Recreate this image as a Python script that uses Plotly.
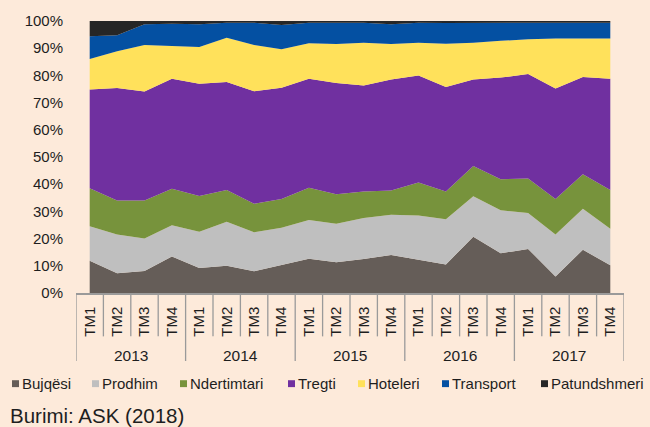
import plotly.graph_objects as go

# ---- data ----
years = ["2013", "2014", "2015", "2016", "2017"]
quarters = ["TM1", "TM2", "TM3", "TM4"]
series_names = ["Bujqësi", "Prodhim", "Ndertimtari", "Tregti", "Hoteleri", "Transport", "Patundshmeri"]

bujqesi = [11.9, 7.3, 8.1, 13.4, 9.2, 10.0, 8.0, 10.3, 12.6, 11.3,
           12.5, 14.0, 12.2, 10.5, 20.7, 14.6, 16.2, 6.1, 15.9, 10.2]
prodhim = [12.6, 14.2, 11.9, 11.5, 13.3, 16.2, 14.3, 13.7, 14.2, 14.2,
           15.1, 14.8, 16.3, 16.6, 14.9, 15.8, 13.2, 15.4, 15.1, 13.4]
ndertimtari = [14.0, 12.5, 14.0, 13.4, 13.2, 11.7, 10.5, 10.6, 11.9, 10.8,
               9.7, 8.9, 12.1, 10.2, 11.1, 11.4, 12.7, 13.1, 12.7, 14.3]
tregti = [36.3, 41.4, 40.1, 40.5, 41.2, 39.7, 41.4, 40.9, 40.1, 40.9,
          39.0, 40.8, 39.4, 38.4, 31.8, 37.4, 38.4, 40.6, 35.7, 40.9]
hoteleri = [11.2, 13.5, 17.1, 12.0, 13.5, 16.2, 17.0, 14.1, 13.0, 14.3,
            15.7, 13.0, 12.0, 15.9, 13.5, 13.5, 12.8, 18.4, 14.3, 14.8]
transport = [8.4, 5.9, 7.6, 8.2, 8.4, 5.6, 8.2, 8.9, 7.6, 7.9,
             7.4, 7.3, 7.4, 7.7, 7.3, 6.7, 5.9, 5.7, 5.6, 5.8]
patundshmeri = [5.6, 5.2, 1.2, 1.0, 1.2, 0.6, 0.6, 1.5, 0.6, 0.6,
                0.6, 1.2, 0.6, 0.7, 0.7, 0.6, 0.8, 0.7, 0.7, 0.6]

y_ticks = [0, 10, 20, 30, 40, 50, 60, 70, 80, 90, 100]
source_text = "Burimi: ASK (2018)"

# ---- styling ----
colors = ["#655D58", "#BFBFBF", "#77933C", "#7030A0", "#FFE15B", "#0450A2", "#262626"]
BG = "#FDEADA"
FONT = "Liberation Sans, Arial, sans-serif"
TXT = "#1E1E1E"
AXIS = "#9A9A9A"

W, H = 650, 427
L, R, T, B = 76, 26, 17, 134
PW, PH = W - L - R, H - T - B


def px_x(p):
    return (p - L) / PW


def px_y(p):
    return (H - B - p) / PH


labels = [f"{q}" for y in years for q in quarters]
xs = list(range(len(labels)))
values = [bujqesi, prodhim, ndertimtari, tregti, hoteleri, transport, patundshmeri]

fig = go.Figure()
for i, (name, vals, col) in enumerate(zip(series_names, values, colors)):
    fig.add_trace(go.Scatter(
        x=xs, y=vals, name=name, mode="lines",
        stackgroup="one", groupnorm="percent" if i == 0 else None,
        line=dict(width=0, color=col), fillcolor=col,
        showlegend=False, hoverinfo="x+y+name",
    ))

shapes = []
annotations = []
n = len(labels)
# category dividers (multi-level axis)
for k in range(n + 1):
    long_ = (k % len(quarters) == 0)
    shapes.append(dict(
        type="line", xref="x", yref="paper",
        x0=k - 0.5, x1=k - 0.5, y0=0, y1=px_y(362 if long_ else 337),
        line=dict(color=AXIS, width=1.3),
    ))
# year labels
for j, yr in enumerate(years):
    annotations.append(dict(
        x=j * len(quarters) + (len(quarters) - 1) / 2, xref="x",
        y=px_y(356), yref="paper", text=yr, showarrow=False,
        xanchor="center", yanchor="middle",
        font=dict(family=FONT, size=15.5, color=TXT),
    ))

# legend (swatch + text)
legend_sw = [12, 92, 180, 288, 358, 442, 541]
for name, col, sx in zip(series_names, colors, legend_sw):
    shapes.append(dict(
        type="rect", xref="paper", yref="paper",
        x0=px_x(sx), x1=px_x(sx + 7), y0=px_y(381.5), y1=px_y(388.5),
        fillcolor=col, line=dict(width=0),
    ))
    annotations.append(dict(
        x=px_x(sx + 8), xref="paper", y=px_y(385), yref="paper",
        text=name, showarrow=False, xanchor="left", yanchor="middle",
        font=dict(family=FONT, size=15, color=TXT),
    ))

annotations.append(dict(
    x=px_x(8), xref="paper", y=px_y(417), yref="paper",
    text=source_text, showarrow=False, xanchor="left", yanchor="middle",
    font=dict(family=FONT, size=20.5, color=TXT),
))

fig.update_layout(
    width=W, height=H,
    margin=dict(l=L, r=R, t=T, b=B, pad=0),
    paper_bgcolor=BG, plot_bgcolor=BG,
    font=dict(family=FONT, color=TXT),
    showlegend=False,
    shapes=shapes, annotations=annotations,
    xaxis=dict(
        range=[-0.5, n - 0.5], tickmode="array", tickvals=xs, ticktext=labels,
        tickangle=-90, ticks="", showgrid=False, zeroline=False,
        showline=True, linecolor=AXIS, linewidth=1.5,
        tickfont=dict(family=FONT, size=15, color=TXT),
        ticklabelstandoff=6, fixedrange=True,
    ),
    yaxis=dict(
        range=[0, 100], tickmode="array", tickvals=y_ticks,
        ticktext=[f"{v}%" for v in y_ticks],
        ticks="", showgrid=False, zeroline=False, showline=False,
        tickfont=dict(family=FONT, size=15, color=TXT),
        ticklabelstandoff=12, fixedrange=True,
    ),
)

fig.write_html(
    "out.html",
    config={"displayModeBar": False},
    post_script="document.body.style.margin='0';document.body.style.background='" + BG + "';",
)
